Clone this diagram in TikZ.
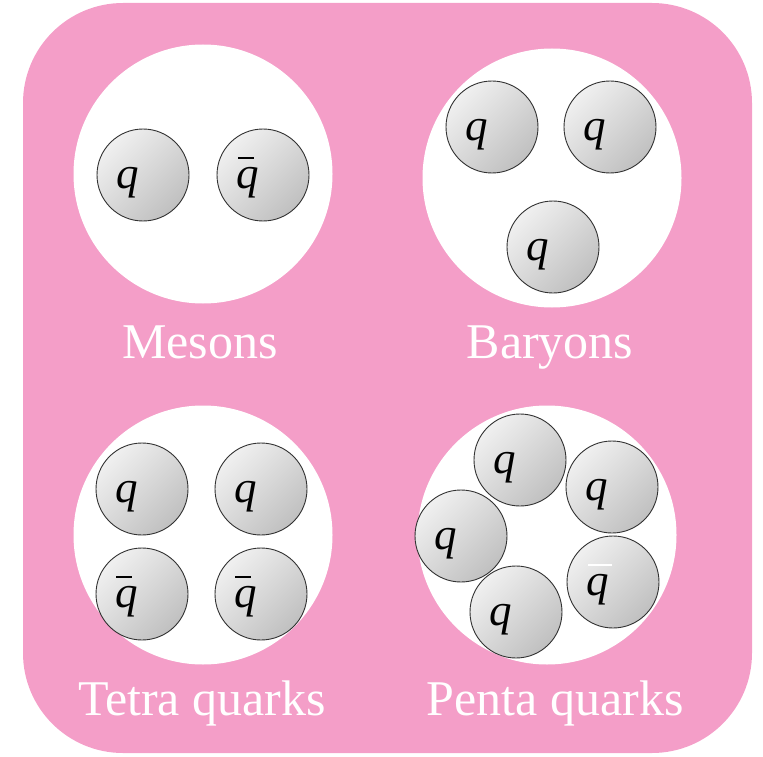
\documentclass[tikz,border=0pt]{standalone}
\usepackage{fontspec}
\setmainfont{Liberation Serif}
\definecolor{bgpink}{RGB}{244,158,200}
\definecolor{qedge}{RGB}{50,50,50}
\definecolor{qlight}{RGB}{240,240,240}
\definecolor{qdark}{RGB}{192,192,192}
\begin{document}
\begin{tikzpicture}[x=1pt,y=-1pt,
  hadron/.style={circle,fill=white,minimum size=259pt,inner sep=0pt},
  quark/.style={circle,draw=qedge,line width=0.9pt,minimum size=92pt,inner sep=0pt,
    top color=qlight,bottom color=qdark,shading angle=45},
  qtext/.style={font=\fontsize{45}{45}\selectfont\itshape,inner sep=0pt},
  lbl/.style={font=\fontsize{50}{50}\selectfont,text=white,anchor=base,inner sep=0pt},
  qbarline/.style={line width=2pt},
]
\useasboundingbox (0,0) rectangle (763,757);
\fill[bgpink,rounded corners=100pt] (23,3) rectangle (752,753);

% Mesons
\node[hadron] (hm) at (203,174) {};
\node[quark] (m1) at (143,175) {};
\node[quark] (m2) at (263,175) {};
\node[qtext] (tm1) at ([shift={(-15,8)}]m1.center) {q};
\node[qtext] (tm2) at ([shift={(-15,8)}]m2.center) {q};
\draw[qbarline] ([shift={(-25,-17)}]m2.center) -- ++(16,0);
\node[lbl] (lm) at (200,358) {Mesons};

% Baryons
\node[hadron] (hb) at (552,178) {};
\node[quark] (b1) at (492,127) {};
\node[quark] (b2) at (610,127) {};
\node[quark] (b3) at (553,247) {};
\node[qtext] (tb1) at ([shift={(-15,8)}]b1.center) {q};
\node[qtext] (tb2) at ([shift={(-15,8)}]b2.center) {q};
\node[qtext] (tb3) at ([shift={(-15,8)}]b3.center) {q};
\node[lbl] (lb) at (550,358) {Baryons};

% Tetra quarks
\node[hadron] (ht) at (203,535) {};
\node[quark] (t1) at (142,489) {};
\node[quark] (t2) at (261,489) {};
\node[quark] (t3) at (142,594) {};
\node[quark] (t4) at (261,594) {};
\node[qtext] (tt1) at ([shift={(-15,8)}]t1.center) {q};
\node[qtext] (tt2) at ([shift={(-15,8)}]t2.center) {q};
\node[qtext] (tt3) at ([shift={(-15,8)}]t3.center) {q};
\node[qtext] (tt4) at ([shift={(-15,8)}]t4.center) {q};
\draw[qbarline] ([shift={(-26,-17)}]t3.center) -- ++(16,0);
\draw[qbarline] ([shift={(-26,-17)}]t4.center) -- ++(16,0);
\node[lbl] (lt) at (202,715) {Tetra quarks};

% Penta quarks
\node[hadron] (hp) at (547,535) {};
\node[quark] (p1) at (520,460) {};
\node[quark] (p2) at (612,487) {};
\node[quark] (p3) at (461,536) {};
\node[quark] (p4) at (516,612) {};
\node[quark] (p5) at (613,582) {};
\node[qtext] (tp1) at ([shift={(-15,8)}]p1.center) {q};
\node[qtext] (tp2) at ([shift={(-15,8)}]p2.center) {q};
\node[qtext] (tp3) at ([shift={(-15,8)}]p3.center) {q};
\node[qtext] (tp4) at ([shift={(-15,8)}]p4.center) {q};
\node[qtext] (tp5) at ([shift={(-15,8)}]p5.center) {q};
\draw[qbarline,white] ([shift={(-25,-17)}]p5.center) -- ++(24,0);
\node[lbl] (lp) at (555,715) {Penta quarks};
\end{tikzpicture}
\end{document}
